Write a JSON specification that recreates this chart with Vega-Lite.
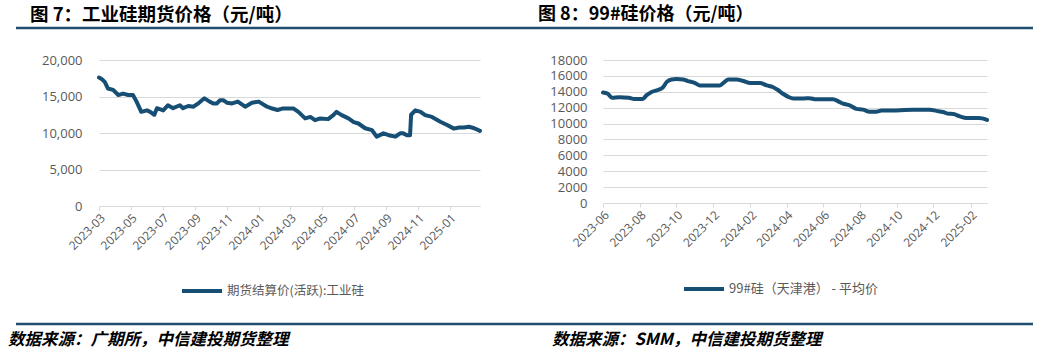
{
  "$schema": "https://vega.github.io/schema/vega-lite/v6.json",
  "padding": {"left": 8, "top": 0, "right": 0, "bottom": 0},
  "background": "white",
  "columns": 2,
  "bounds": "flush",
  "spacing": {"row": 32, "column": 0},
  "config": {
    "view": {"stroke": null},
    "font": "Noto Sans CJK SC",
    "axis": {"labelFont": "Open Sans", "labelColor": "#595959", "labelFontSize": 12, "gridColor": "#D9D9D9", "domainColor": "#D9D9D9", "tickColor": "#D9D9D9", "title": null, "labelOverlap": false}
  },
  "datasets": {
    "futures": [
      {"date": "2023-03-01", "price": 17600}, {"date": "2023-03-06", "price": 17400}, {"date": "2023-03-12", "price": 17000},
      {"date": "2023-03-18", "price": 16100}, {"date": "2023-03-28", "price": 15900}, {"date": "2023-04-07", "price": 15200},
      {"date": "2023-04-16", "price": 15400}, {"date": "2023-04-26", "price": 15200}, {"date": "2023-05-05", "price": 15200},
      {"date": "2023-05-12", "price": 14300}, {"date": "2023-05-21", "price": 12900}, {"date": "2023-06-01", "price": 13100},
      {"date": "2023-06-07", "price": 12900}, {"date": "2023-06-15", "price": 12500}, {"date": "2023-06-20", "price": 13400},
      {"date": "2023-07-02", "price": 13100}, {"date": "2023-07-11", "price": 13800}, {"date": "2023-07-21", "price": 13400},
      {"date": "2023-08-03", "price": 13800}, {"date": "2023-08-09", "price": 13400}, {"date": "2023-08-19", "price": 13700},
      {"date": "2023-08-29", "price": 13600}, {"date": "2023-09-08", "price": 14100}, {"date": "2023-09-19", "price": 14750},
      {"date": "2023-09-29", "price": 14300}, {"date": "2023-10-06", "price": 14050}, {"date": "2023-10-13", "price": 14050},
      {"date": "2023-10-19", "price": 14500}, {"date": "2023-10-25", "price": 14500}, {"date": "2023-11-01", "price": 14150},
      {"date": "2023-11-11", "price": 14050}, {"date": "2023-11-22", "price": 14300}, {"date": "2023-12-06", "price": 13600},
      {"date": "2023-12-19", "price": 14150}, {"date": "2024-01-01", "price": 14300}, {"date": "2024-01-17", "price": 13600},
      {"date": "2024-01-27", "price": 13350}, {"date": "2024-02-06", "price": 13150}, {"date": "2024-02-15", "price": 13350},
      {"date": "2024-02-25", "price": 13350}, {"date": "2024-03-08", "price": 13350}, {"date": "2024-03-17", "price": 12900},
      {"date": "2024-03-30", "price": 12000}, {"date": "2024-04-09", "price": 12200}, {"date": "2024-04-18", "price": 11750},
      {"date": "2024-04-28", "price": 12000}, {"date": "2024-05-13", "price": 11900}, {"date": "2024-05-23", "price": 12450},
      {"date": "2024-05-29", "price": 12900}, {"date": "2024-06-08", "price": 12450}, {"date": "2024-06-21", "price": 12000},
      {"date": "2024-07-01", "price": 11500}, {"date": "2024-07-10", "price": 11300}, {"date": "2024-07-23", "price": 10650},
      {"date": "2024-08-05", "price": 10400}, {"date": "2024-08-14", "price": 9500}, {"date": "2024-08-27", "price": 9950},
      {"date": "2024-09-06", "price": 9700}, {"date": "2024-09-19", "price": 9500}, {"date": "2024-09-28", "price": 9950},
      {"date": "2024-10-04", "price": 9950}, {"date": "2024-10-11", "price": 9700}, {"date": "2024-10-17", "price": 9700},
      {"date": "2024-10-19", "price": 12500}, {"date": "2024-10-27", "price": 13100}, {"date": "2024-11-06", "price": 12900},
      {"date": "2024-11-15", "price": 12450}, {"date": "2024-11-28", "price": 12200}, {"date": "2024-12-14", "price": 11550},
      {"date": "2024-12-27", "price": 11100}, {"date": "2025-01-09", "price": 10600}, {"date": "2025-01-19", "price": 10750},
      {"date": "2025-01-28", "price": 10750}, {"date": "2025-02-07", "price": 10850}, {"date": "2025-02-17", "price": 10650},
      {"date": "2025-02-28", "price": 10300}
    ],
    "spot": [
      {"date": "2023-06-01", "price": 13900}, {"date": "2023-06-09", "price": 13750}, {"date": "2023-06-16", "price": 13250},
      {"date": "2023-06-28", "price": 13300}, {"date": "2023-07-14", "price": 13250}, {"date": "2023-07-23", "price": 13100},
      {"date": "2023-08-06", "price": 13100}, {"date": "2023-08-12", "price": 13550}, {"date": "2023-08-20", "price": 13950},
      {"date": "2023-09-01", "price": 14250}, {"date": "2023-09-09", "price": 14600}, {"date": "2023-09-15", "price": 15250},
      {"date": "2023-09-23", "price": 15550}, {"date": "2023-10-01", "price": 15600}, {"date": "2023-10-12", "price": 15550},
      {"date": "2023-10-20", "price": 15350}, {"date": "2023-11-01", "price": 15100}, {"date": "2023-11-09", "price": 14800},
      {"date": "2023-11-20", "price": 14800}, {"date": "2023-12-12", "price": 14800}, {"date": "2023-12-20", "price": 15250},
      {"date": "2023-12-26", "price": 15550}, {"date": "2024-01-09", "price": 15550}, {"date": "2024-01-20", "price": 15350},
      {"date": "2024-02-01", "price": 15100}, {"date": "2024-02-17", "price": 15100}, {"date": "2024-02-28", "price": 14800},
      {"date": "2024-03-09", "price": 14600}, {"date": "2024-03-17", "price": 14250}, {"date": "2024-03-26", "price": 13750},
      {"date": "2024-04-04", "price": 13350}, {"date": "2024-04-12", "price": 13150}, {"date": "2024-04-28", "price": 13150},
      {"date": "2024-05-09", "price": 13200}, {"date": "2024-05-20", "price": 13050}, {"date": "2024-06-17", "price": 13050},
      {"date": "2024-06-26", "price": 12800}, {"date": "2024-07-04", "price": 12500}, {"date": "2024-07-15", "price": 12300},
      {"date": "2024-07-26", "price": 11850}, {"date": "2024-08-06", "price": 11750}, {"date": "2024-08-17", "price": 11500},
      {"date": "2024-08-28", "price": 11500}, {"date": "2024-09-06", "price": 11650}, {"date": "2024-10-01", "price": 11650},
      {"date": "2024-10-28", "price": 11750}, {"date": "2024-11-25", "price": 11750}, {"date": "2024-12-06", "price": 11600},
      {"date": "2024-12-17", "price": 11450}, {"date": "2024-12-25", "price": 11250}, {"date": "2025-01-03", "price": 11200},
      {"date": "2025-01-14", "price": 10900}, {"date": "2025-01-25", "price": 10700}, {"date": "2025-02-14", "price": 10700},
      {"date": "2025-02-20", "price": 10650}, {"date": "2025-02-28", "price": 10450}
    ]
  },
  "resolve": {"scale": {"color": "independent"}, "legend": {"color": "independent"}},
  "concat": [
    {
      "width": 504, "height": 28,
      "data": {"values": [{}]},
      "title": {"text": "图 7：工业硅期货价格（元/吨）", "anchor": "start", "frame": "group", "dx": 14, "offset": -24, "fontSize": 18.5, "fontWeight": "bold", "color": "#000000", "font": "Noto Sans CJK SC"},
      "mark": {"type": "rule", "color": "#1F4E6E", "strokeWidth": 2.5},
      "encoding": {"y": {"value": "height"}}
    },
    {
      "width": 513, "height": 28,
      "data": {"values": [{}]},
      "title": {"text": "图 8：99#硅价格（元/吨）", "anchor": "start", "frame": "group", "dx": 18, "offset": -24, "fontSize": 18, "fontWeight": "bold", "color": "#000000", "font": "Noto Sans CJK SC"},
      "mark": {"type": "rule", "color": "#1F4E6E", "strokeWidth": 2.5},
      "encoding": {"y": {"value": "height"}}
    },
    {
      "width": 464, "height": 146,
      "data": {"name": "futures"},
      "mark": {"type": "line", "strokeWidth": 4, "strokeJoin": "round", "strokeCap": "round"},
      "encoding": {
        "x": {"field": "date", "type": "temporal",
          "scale": {"domain": [{"year": 2023, "month": 3, "date": 1}, {"year": 2025, "month": 2, "date": 28}], "range": [83, 464]},
          "axis": {"format": "%Y-%m", "labelAngle": -45, "grid": false, "tickSize": 4, "labelPadding": 2,
            "values": [{"year": 2023, "month": 3, "date": 1}, {"year": 2023, "month": 5, "date": 1}, {"year": 2023, "month": 7, "date": 1}, {"year": 2023, "month": 9, "date": 1}, {"year": 2023, "month": 11, "date": 1}, {"year": 2024, "month": 1, "date": 1}, {"year": 2024, "month": 3, "date": 1}, {"year": 2024, "month": 5, "date": 1}, {"year": 2024, "month": 7, "date": 1}, {"year": 2024, "month": 9, "date": 1}, {"year": 2024, "month": 11, "date": 1}, {"year": 2025, "month": 1, "date": 1}]}},
        "y": {"field": "price", "type": "quantitative",
          "scale": {"domain": [0, 20000]},
          "axis": {"values": [0, 5000, 10000, 15000, 20000], "format": ",.0f", "labelFontSize": 13, "domain": false, "ticks": false, "labelPadding": 17, "offset": -83}},
        "color": {"datum": "期货结算价(活跃):工业硅", "scale": {"range": ["#164E74"]},
          "legend": {"title": null, "orient": "none", "legendX": 164, "legendY": 209, "symbolType": "stroke", "symbolSize": 1600, "symbolStrokeWidth": 4, "labelFontSize": 12.5, "labelColor": "#595959", "labelFont": "Noto Sans CJK SC", "labelOffset": 3}}
      }
    },
    {
      "width": 467, "height": 143,
      "data": {"name": "spot"},
      "mark": {"type": "line", "strokeWidth": 4, "interpolate": "monotone", "strokeCap": "round"},
      "encoding": {
        "x": {"field": "date", "type": "temporal",
          "scale": {"domain": [{"year": 2023, "month": 6, "date": 1}, {"year": 2025, "month": 2, "date": 28}], "range": [83, 467]},
          "axis": {"format": "%Y-%m", "labelAngle": -45, "grid": false, "tickSize": 4, "labelPadding": 2,
            "values": [{"year": 2023, "month": 6, "date": 1}, {"year": 2023, "month": 8, "date": 1}, {"year": 2023, "month": 10, "date": 1}, {"year": 2023, "month": 12, "date": 1}, {"year": 2024, "month": 2, "date": 1}, {"year": 2024, "month": 4, "date": 1}, {"year": 2024, "month": 6, "date": 1}, {"year": 2024, "month": 8, "date": 1}, {"year": 2024, "month": 10, "date": 1}, {"year": 2024, "month": 12, "date": 1}, {"year": 2025, "month": 2, "date": 1}]}},
        "y": {"field": "price", "type": "quantitative",
          "scale": {"domain": [0, 18000]},
          "axis": {"values": [0, 2000, 4000, 6000, 8000, 10000, 12000, 14000, 16000, 18000], "format": "d", "labelFontSize": 13, "domain": false, "ticks": false, "labelPadding": 16, "offset": -83}},
        "color": {"datum": "99#硅（天津港） - 平均价", "scale": {"range": ["#164E74"]},
          "legend": {"title": null, "orient": "none", "legendX": 162, "legendY": 207, "symbolType": "stroke", "symbolSize": 1600, "symbolStrokeWidth": 4, "labelFontSize": 13, "labelColor": "#595959", "labelFont": "Noto Sans CJK SC", "labelOffset": 3}}
      }
    },
    {
      "width": 504, "height": 86,
      "data": {"values": [{}]},
      "title": {"text": "数据来源：广期所，中信建投期货整理", "orient": "bottom", "anchor": "start", "frame": "group", "dx": -8, "offset": 7, "fontSize": 16.5, "fontWeight": "bold", "fontStyle": "italic", "color": "#000000", "font": "Noto Sans CJK SC"},
      "mark": {"type": "rule", "color": "#1F4E6E", "strokeWidth": 2.5},
      "encoding": {"y": {"value": "height"}}
    },
    {
      "width": 513, "height": 86,
      "data": {"values": [{}]},
      "title": {"text": "数据来源：SMM，中信建投期货整理", "orient": "bottom", "anchor": "start", "frame": "group", "dx": 32, "offset": 7, "fontSize": 16.5, "fontWeight": "bold", "fontStyle": "italic", "color": "#000000", "font": "Noto Sans CJK SC"},
      "mark": {"type": "rule", "color": "#1F4E6E", "strokeWidth": 2.5},
      "encoding": {"y": {"value": "height"}}
    }
  ]
}
